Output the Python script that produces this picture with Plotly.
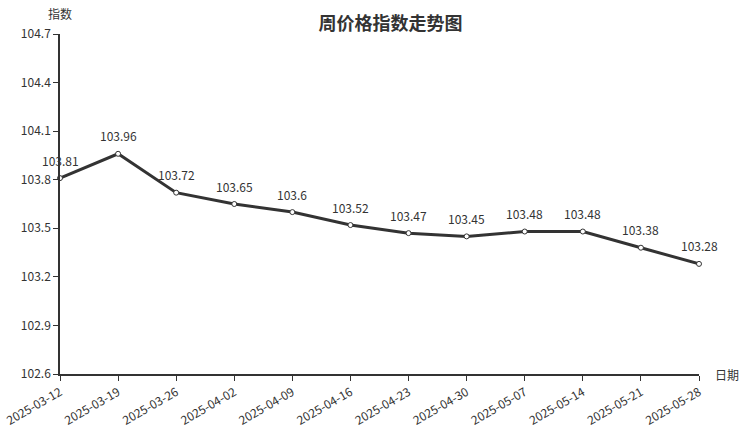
import plotly.graph_objects as go

dates = ["2025-03-12", "2025-03-19", "2025-03-26", "2025-04-02", "2025-04-09", "2025-04-16",
         "2025-04-23", "2025-04-30", "2025-05-07", "2025-05-14", "2025-05-21", "2025-05-28"]
values = [103.81, 103.96, 103.72, 103.65, 103.6, 103.52, 103.47, 103.45, 103.48, 103.48, 103.38, 103.28]
labels = ["103.81", "103.96", "103.72", "103.65", "103.6", "103.52", "103.47", "103.45", "103.48", "103.48", "103.38", "103.28"]
yticks = [102.6, 102.9, 103.2, 103.5, 103.8, 104.1, 104.4, 104.7]

FONT = "Noto Sans CJK SC"
C = "#333333"

fig = go.Figure()
fig.add_trace(go.Scatter(
    x=dates, y=values, mode="lines+markers",
    line=dict(color=C, width=3),
    marker=dict(size=5, color="white", line=dict(color=C, width=1)),
    cliponaxis=False, showlegend=False,
))
for d, v, t in zip(dates, values, labels):
    fig.add_annotation(x=d, y=v, text=t, showarrow=False, yshift=18,
                       xanchor="center", yanchor="middle",
                       font=dict(family=FONT, size=12, color=C))

fig.update_layout(
    width=751, height=427,
    margin=dict(l=60, r=52, t=34, b=53),
    plot_bgcolor="white", paper_bgcolor="white",
    font=dict(family=FONT, size=12, color=C),
    title=dict(text="<b>周价格指数走势图</b>", x=0.52, xanchor="center", y=0.945, yanchor="middle",
               font=dict(family=FONT, size=18, color=C)),
)
fig.update_xaxes(
    type="category", range=[0, len(dates) - 1], automargin=False,
    showline=True, linecolor=C, linewidth=1.5,
    ticks="outside", ticklen=5, tickcolor=C, tickangle=-30,
    showgrid=False, zeroline=False,
    tickfont=dict(family=FONT, size=12, color=C),
)
fig.update_yaxes(
    range=[102.6, 104.7], tickvals=yticks, ticktext=[str(v) for v in yticks], automargin=False,
    showline=True, linecolor=C, linewidth=1.5,
    ticks="outside", ticklen=5, tickcolor=C,
    showgrid=False, zeroline=False,
    tickfont=dict(family=FONT, size=12, color=C),
)
fig.add_annotation(text="指数", xref="paper", yref="paper", x=0.0, y=1.0, yshift=21,
                   xanchor="center", yanchor="middle", showarrow=False,
                   font=dict(family=FONT, size=12, color=C))
fig.add_annotation(text="日期", xref="paper", yref="paper", x=1.0, y=0.0, xshift=28,
                   xanchor="center", yanchor="middle", showarrow=False,
                   font=dict(family=FONT, size=12, color=C))

fig.write_html("out.html", config={"displayModeBar": False},
               post_script="document.body.style.margin='0';document.body.style.overflow='hidden';")
